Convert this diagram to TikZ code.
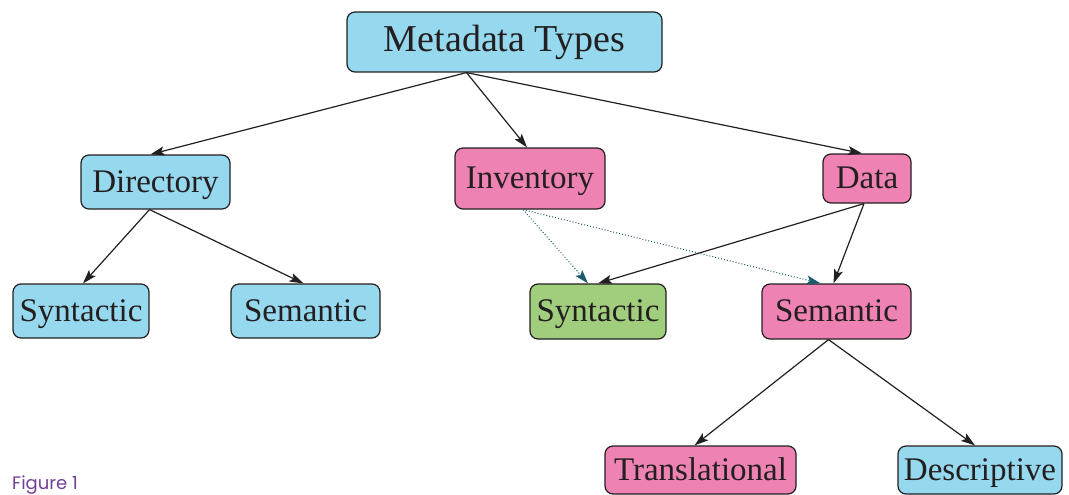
\documentclass[tikz,border=0pt]{standalone}
\usepackage{fontspec}
\setmainfont{Liberation Serif}
\newfontfamily\figfont{Poppins}
\usetikzlibrary{arrows.meta}
\definecolor{bbox}{RGB}{150,216,238}
\definecolor{pbox}{RGB}{238,130,178}
\definecolor{gbox}{RGB}{160,206,125}
\definecolor{ink}{RGB}{35,31,32}
\definecolor{figpurple}{RGB}{112,64,150}
\definecolor{dotc}{RGB}{30,90,110}
\tikzset{
  box/.style={draw=ink, line width=1.2pt, rounded corners=8pt, inner sep=0pt,
    text=ink, font=\fontsize{33}{36}\selectfont, minimum height=54pt,
    text height=26pt, text depth=6pt},
  blue/.style={box, fill=bbox},
  pink/.style={box, fill=pbox},
  green/.style={box, fill=gbox},
  arr/.style={draw=ink, line width=1.2pt, -{Stealth[length=14pt,width=9pt,inset=3pt]}},
  dotarr/.style={draw=dotc, line width=1pt, dotted, -{Stealth[length=14pt,width=9pt,inset=3pt]}},
}
\begin{document}
\begin{tikzpicture}[x=1pt,y=-1pt]
\useasboundingbox (0,0) rectangle (1069,495);
\node[blue, minimum width=315pt, minimum height=60pt, font=\fontsize{38}{42}\selectfont, text height=28pt, text depth=8pt] (meta) at (504.5,42) {Metadata Types};
\node[blue, minimum width=149pt] (dir) at (155.5,182) {Directory};
\node[pink, minimum width=150pt, minimum height=61pt] (inv) at (530,178.5) {Inventory};
\node[pink, minimum width=88pt, minimum height=49pt] (data) at (867,178.5) {Data};
\node[blue, minimum width=136pt] (syn1) at (81,311) {Syntactic};
\node[blue, minimum width=149pt] (sem1) at (305.5,311) {Semantic};
\node[green, minimum width=136pt, minimum height=55pt] (syn2) at (598,311.5) {Syntactic};
\node[pink, minimum width=149pt, minimum height=55pt] (sem2) at (836.5,311.5) {Semantic};
\node[pink, minimum width=191pt, minimum height=48pt] (trans) at (700.5,470) {Translational};
\node[blue, minimum width=164pt, minimum height=48pt] (desc) at (980,470) {Descriptive};
\node[anchor=base west, inner sep=0pt, text=figpurple, font=\figfont\fontsize{18}{20}\selectfont] (fig) at (12,489) {Figure 1};

\coordinate (mS) at ([xshift=-38pt]meta.south);
\draw[arr] (mS) -- ([xshift=-5pt]dir.north);
\draw[arr] (mS) -- ([xshift=-3pt]inv.north);
\draw[arr] (mS) -- ([xshift=-5pt]data.north);
\coordinate (dS) at ([xshift=-6pt]dir.south);
\draw[arr] (dS) -- ([xshift=2pt]syn1.north);
\draw[arr] (dS) -- ([xshift=-2pt]sem1.north);
\coordinate (daS) at ([xshift=-3pt]data.south);
\draw[arr] (daS) -- (syn2.north);
\draw[arr] (daS) -- ([xshift=-3pt]sem2.north);
\coordinate (iS) at ([xshift=-7pt]inv.south);
\draw[dotarr] (iS) -- ([xshift=-10pt]syn2.north);
\draw[dotarr] (iS) -- ([xshift=-16pt]sem2.north);
\coordinate (sS) at ([xshift=-8pt]sem2.south);
\draw[arr] (sS) -- ([xshift=-6pt]trans.north);
\draw[arr] (sS) -- ([xshift=-5pt]desc.north);
\end{tikzpicture}
\end{document}
